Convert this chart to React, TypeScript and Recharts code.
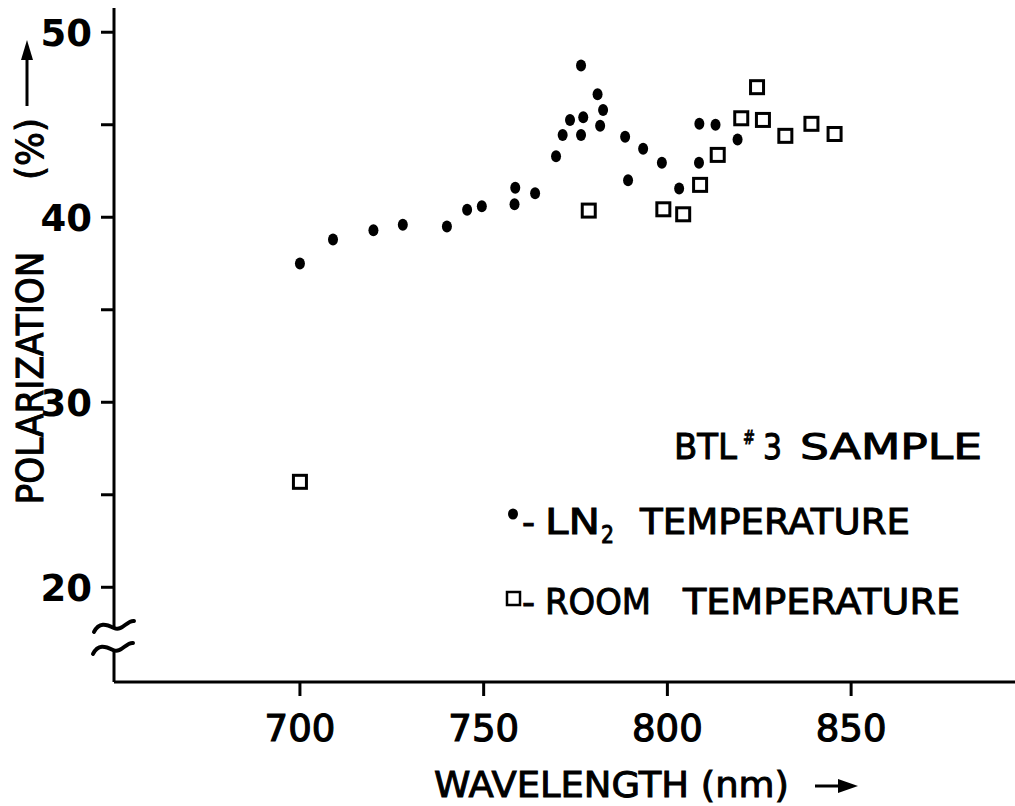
import React from 'react';
import { ScatterChart, Scatter, XAxis, YAxis, ReferenceDot } from 'recharts';

// LN2 temperature (filled dots)
const ln2Wavelength = [700, 709, 720, 728, 740, 745.5, 749.5, 758.4, 758.6, 764, 769.7, 771.5, 773.5, 776.5, 777.1, 776.5, 781, 782.5, 781.7, 788.5, 793.4, 798.5, 789.3, 803.2, 808.7, 813.1, 808.6, 819.1];
const ln2Polarization = [37.5, 38.8, 39.3, 39.6, 39.5, 40.4, 40.6, 40.7, 41.6, 41.3, 43.3, 44.45, 45.25, 44.45, 45.4, 48.2, 46.65, 45.8, 44.95, 44.35, 43.7, 42.95, 42.0, 41.55, 45.05, 45.0, 42.95, 44.2];

// Room temperature (open squares)
const roomWavelength = [700, 778.6, 798.9, 804.3, 808.9, 813.7, 820.1, 824.4, 826, 832.1, 839.2, 845.5];
const roomPolarization = [25.7, 40.36, 40.43, 40.16, 41.75, 43.37, 45.35, 47.03, 45.26, 44.4, 45.05, 44.5];

const xTicks = [700, 750, 800, 850];
const yTicks = [20, 25, 30, 35, 40, 45, 50];
const yTickLabels = [20, 30, 40, 50];

const X_DOMAIN: [number, number] = [649.4, 894.6];
const Y_DOMAIN: [number, number] = [14.88, 51.31];
const BREAK_CENTER = 17.26;

const ln2Data = ln2Wavelength.map((x, i) => ({ x, y: ln2Polarization[i] }));
const roomData = roomWavelength.map((x, i) => ({ x, y: roomPolarization[i] }));

const FONT = '"DejaVu Sans", sans-serif';

const DotShape = (p: any) => <ellipse cx={p.cx} cy={p.cy} rx={5} ry={6} fill="#000" />;
const SquareShape = (p: any) => (
  <rect x={p.cx - 6.5} y={p.cy - 6.5} width={13} height={13} fill="#fff" stroke="#000" strokeWidth={3} />
);

const YTick = (p: any) => {
  const v = p.payload.value;
  if (!yTickLabels.includes(v)) return <g />;
  return (
    <text x={p.x} y={p.y} dy="0.36em" textAnchor="end" fontFamily={FONT} fontWeight="bold" fontSize={37} fill="#000">
      {v}
    </text>
  );
};

const XTick = (p: any) => (
  <text x={p.x} y={p.y} dy="0.71em" textAnchor="middle" fontFamily={FONT} fontSize={37} fill="#000" stroke="#000" strokeWidth={1.2}>
    {p.payload.value}
  </text>
);

const tilde = (cx: number, cy: number) =>
  `M ${cx - 20} ${cy + 4} C ${cx - 15} ${cy - 6}, ${cx - 8} ${cy - 4}, ${cx} ${cy} S ${cx + 13} ${cy - 8}, ${cx + 20} ${cy - 7}`;

// axis break: white gap over the axis line plus two wavy strokes
const BreakMark = (p: any) => {
  const { cx, cy } = p;
  return (
    <g>
      <rect x={cx - 5} y={cy - 9} width={10} height={20} fill="#fff" />
      <g fill="none" stroke="#000" strokeWidth={4} strokeLinecap="round">
        <path d={tilde(cx, cy - 10)} />
        <path d={tilde(cx - 1, cy + 12)} />
      </g>
    </g>
  );
};

const txt = { stroke: '#000', strokeWidth: 1 } as const;

export default function App() {
  return (
    <div style={{ position: 'absolute', left: 0, top: 0, width: 1015, height: 806, background: '#fff' }}>
      <ScatterChart width={1015} height={806} margin={{ top: 8, right: 0, bottom: 0, left: 0 }}>
        <XAxis
          type="number"
          dataKey="x"
          domain={X_DOMAIN}
          ticks={xTicks}
          interval={0}
          allowDataOverflow
          height={124}
          tickSize={14}
          tickMargin={19}
          axisLine={{ stroke: '#000', strokeWidth: 3 }}
          tickLine={{ stroke: '#000', strokeWidth: 3 }}
          tick={XTick}
        />
        <YAxis
          type="number"
          dataKey="y"
          domain={Y_DOMAIN}
          ticks={yTicks}
          interval={0}
          allowDataOverflow
          width={114}
          tickSize={13}
          tickMargin={9}
          axisLine={{ stroke: '#000', strokeWidth: 3 }}
          tickLine={{ stroke: '#000', strokeWidth: 3 }}
          tick={YTick}
        />
        <Scatter name="LN2 TEMPERATURE" data={ln2Data} shape={DotShape} isAnimationActive={false} />
        <Scatter name="ROOM TEMPERATURE" data={roomData} shape={SquareShape} isAnimationActive={false} />
        <ReferenceDot x={X_DOMAIN[0]} y={BREAK_CENTER} r={0} shape={BreakMark} ifOverflow="visible" />
      </ScatterChart>
      <svg
        width={1015}
        height={806}
        style={{ position: 'absolute', left: 0, top: 0, pointerEvents: 'none' }}
        fontFamily={FONT}
        fill="#000"
      >
        {/* Y axis title */}
        <text x={43} y={378} transform="rotate(-90 43 378)" textAnchor="middle" fontSize={37} textLength={253} lengthAdjust="spacingAndGlyphs" {...txt}>
          POLARIZATION
        </text>
        <text x={43} y={149} transform="rotate(-90 43 149)" textAnchor="middle" fontSize={37} textLength={62} lengthAdjust="spacingAndGlyphs" {...txt}>
          (%)
        </text>
        <line x1={27} y1={106} x2={27} y2={55} stroke="#000" strokeWidth={3} />
        <path d="M 27 40 L 33 60 L 21 60 Z" fill="#000" />

        {/* X axis title */}
        <text x={434} y={797} fontSize={36} textLength={355} lengthAdjust="spacingAndGlyphs" {...txt}>
          WAVELENGTH (nm)
        </text>
        <line x1={815} y1={786} x2={845} y2={786} stroke="#000" strokeWidth={3} />
        <path d="M 858 786 L 838 779 L 838 793 Z" fill="#000" />

        {/* Legend */}
        <text x={674} y={459} fontSize={36} textLength={63} lengthAdjust="spacingAndGlyphs" {...txt}>BTL</text>
        <text x={743} y={444} fontSize={20} textLength={12} lengthAdjust="spacingAndGlyphs" {...txt}>#</text>
        <text x={763} y={459} fontSize={36} textLength={19} lengthAdjust="spacingAndGlyphs" {...txt}>3</text>
        <text x={800} y={459} fontSize={36} textLength={182} lengthAdjust="spacingAndGlyphs" {...txt}>SAMPLE</text>

        <ellipse cx={513} cy={514} rx={5} ry={5.5} fill="#000" />
        <text x={522} y={534} fontSize={36} textLength={13} lengthAdjust="spacingAndGlyphs" {...txt}>-</text>
        <text x={545} y={534} fontSize={36} textLength={55} lengthAdjust="spacingAndGlyphs" {...txt}>LN</text>
        <text x={601} y={543} fontSize={24} textLength={13} lengthAdjust="spacingAndGlyphs" {...txt}>2</text>
        <text x={640} y={534} fontSize={36} textLength={270} lengthAdjust="spacingAndGlyphs" {...txt}>TEMPERATURE</text>

        <rect x={507} y={592} width={13} height={13} fill="#fff" stroke="#000" strokeWidth={2.5} />
        <text x={522} y={614} fontSize={36} textLength={13} lengthAdjust="spacingAndGlyphs" {...txt}>-</text>
        <text x={545} y={614} fontSize={36} textLength={106} lengthAdjust="spacingAndGlyphs" {...txt}>ROOM</text>
        <text x={683} y={614} fontSize={36} textLength={277} lengthAdjust="spacingAndGlyphs" {...txt}>TEMPERATURE</text>
      </svg>
    </div>
  );
}
